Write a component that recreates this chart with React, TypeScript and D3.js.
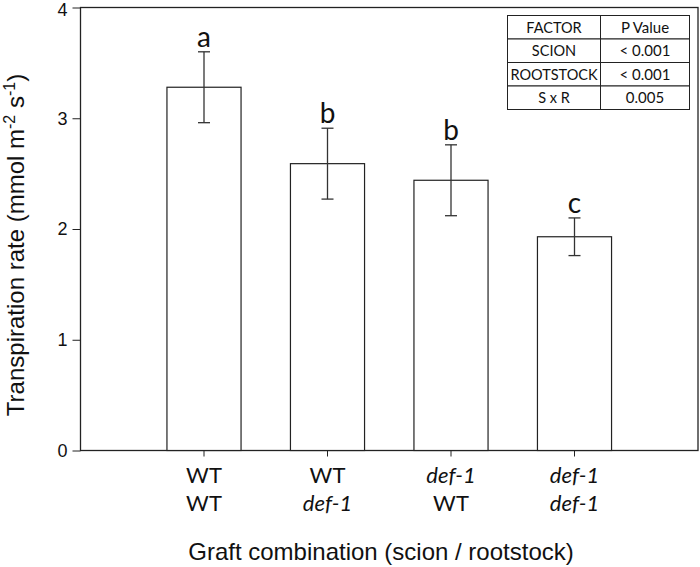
import React, { useRef, useEffect } from 'react';
import * as d3 from 'd3';

// graft combinations (scion / rootstock)
const scions = ['WT', 'WT', 'def-1', 'def-1'];
const rootstocks = ['WT', 'def-1', 'WT', 'def-1'];
const means = [3.28, 2.59, 2.44, 1.93];
const errors = [0.32, 0.32, 0.32, 0.17];
const letters = ['a', 'b', 'b', 'c'];
const yTicks = [0, 1, 2, 3, 4];

const factors = ['FACTOR', 'SCION', 'ROOTSTOCK', 'S x R'];
const pValues = ['P Value', '< 0.001', '< 0.001', '0.005'];

const calibri = 'Lato, "Open Sans", sans-serif';
const arial = '"Liberation Sans", Arial, sans-serif';

function App() {
    const ref = useRef<SVGSVGElement>(null);

    useEffect(() => {
        const svg = d3.select(ref.current);
        svg.selectAll('*').remove();

        const left = 80.5, right = 698, top = 7.5, bottom = 450.5;

        const x = d3.scaleLinear().domain([0, 5]).range([left, right]);
        const y = d3.scaleLinear().domain([0, 4]).range([bottom, top]);
        const barW = x(0.6) - x(0);

        // frame
        svg.append('rect')
            .attr('x', left).attr('y', top)
            .attr('width', right - left).attr('height', bottom - top)
            .attr('fill', 'none').attr('stroke', '#222').attr('stroke-width', 1.3);

        // y axis
        const yAxis = svg.append('g')
            .attr('transform', 'translate(' + left + ',0)')
            .call(d3.axisLeft(y).tickValues(yTicks).tickSize(8).tickPadding(5).tickFormat(d3.format('d')));
        yAxis.select('.domain').remove();
        yAxis.selectAll('line').attr('stroke', '#222');
        yAxis.selectAll('text').attr('font-family', arial).attr('font-size', 18).attr('fill', '#111');
        // top label sits at the very edge; keep it inside the page
        yAxis.selectAll('text').filter((d: any) => d === 4).attr('dy', '0.45em');

        // x ticks
        const idx = means.map((d, i) => i + 1);
        svg.append('g').selectAll('line')
            .data(idx).enter().append('line')
            .attr('x1', d => x(d)).attr('x2', d => x(d))
            .attr('y1', bottom).attr('y2', bottom + 6)
            .attr('stroke', '#222');

        // bars
        svg.append('g').selectAll('rect')
            .data(means).enter().append('rect')
            .attr('x', (d, i) => x(i + 1) - barW / 2)
            .attr('y', d => y(d))
            .attr('width', barW)
            .attr('height', d => y(0) - y(d))
            .attr('fill', 'white')
            .attr('stroke', '#222').attr('stroke-width', 1.2);

        // error bars
        const eb = svg.append('g').attr('stroke', '#333').attr('stroke-width', 1.3);
        means.forEach((m, i) => {
            const cx = x(i + 1);
            eb.append('line').attr('x1', cx).attr('x2', cx).attr('y1', y(m + errors[i])).attr('y2', y(m - errors[i]));
            eb.append('line').attr('x1', cx - 6).attr('x2', cx + 6).attr('y1', y(m + errors[i])).attr('y2', y(m + errors[i]));
            eb.append('line').attr('x1', cx - 6).attr('x2', cx + 6).attr('y1', y(m - errors[i])).attr('y2', y(m - errors[i]));
        });

        // significance letters
        svg.append('g').selectAll('text')
            .data(letters).enter().append('text')
            .attr('x', (d, i) => x(i + 1))
            .attr('y', (d, i) => y(means[i] + errors[i]) - 5)
            .attr('text-anchor', 'middle')
            .attr('font-family', calibri).attr('font-size', 28)
            .attr('fill', '#111')
            .text(d => d);

        // category labels
        const cat = (arr: string[], yy: number) => {
            svg.append('g').selectAll('text')
                .data(arr).enter().append('text')
                .attr('x', (d, i) => x(i + 1))
                .attr('y', yy)
                .attr('text-anchor', 'middle')
                .attr('font-family', calibri).attr('font-size', 22)
                .attr('font-style', d => d === 'WT' ? 'normal' : 'italic')
                .attr('fill', '#111')
                .text(d => d);
        };
        cat(scions, 483);
        cat(rootstocks, 511);

        // axis titles
        svg.append('text')
            .attr('x', 381).attr('y', 560)
            .attr('text-anchor', 'middle')
            .attr('font-family', arial).attr('font-size', 24)
            .attr('fill', '#111')
            .text('Graft combination (scion / rootstock)');

        const yt = svg.append('text')
            .attr('transform', 'translate(24,245) rotate(-90)')
            .attr('text-anchor', 'middle')
            .attr('font-family', arial).attr('font-size', 24)
            .attr('fill', '#111');
        yt.append('tspan').text('Transpiration rate (mmol m');
        yt.append('tspan').attr('dy', -9).attr('font-size', 16).text('-2');
        yt.append('tspan').attr('dy', 9).text(' s');
        yt.append('tspan').attr('dy', -9).attr('font-size', 16).text('-1');
        yt.append('tspan').attr('dy', 9).text(')');

        // p-value table
        const tx = 507.5, ty = 15.5, c1 = 93, c2 = 89, rh = 23.5;
        const tbl = svg.append('g');
        factors.forEach((f, i) => {
            const ry = ty + i * rh;
            tbl.append('rect').attr('x', tx).attr('y', ry).attr('width', c1).attr('height', rh)
                .attr('fill', 'white').attr('stroke', '#222');
            tbl.append('rect').attr('x', tx + c1).attr('y', ry).attr('width', c2).attr('height', rh)
                .attr('fill', 'white').attr('stroke', '#222');
            tbl.append('text').attr('x', tx + c1 / 2).attr('y', ry + rh / 2 + 5.5)
                .attr('text-anchor', 'middle').attr('font-family', calibri).attr('font-size', 14.5)
                .attr('fill', '#111').text(f);
            tbl.append('text').attr('x', tx + c1 + c2 / 2).attr('y', ry + rh / 2 + 5.5)
                .attr('text-anchor', 'middle').attr('font-family', calibri).attr('font-size', 15)
                .attr('fill', '#111').text(pValues[i]);
        });
    }, []);

    return (
        <svg ref={ref} width="700" height="567" style={{ display: 'block', position: 'absolute', left: 0, top: 0, background: 'white' }}></svg>
    );
}

export default App;
